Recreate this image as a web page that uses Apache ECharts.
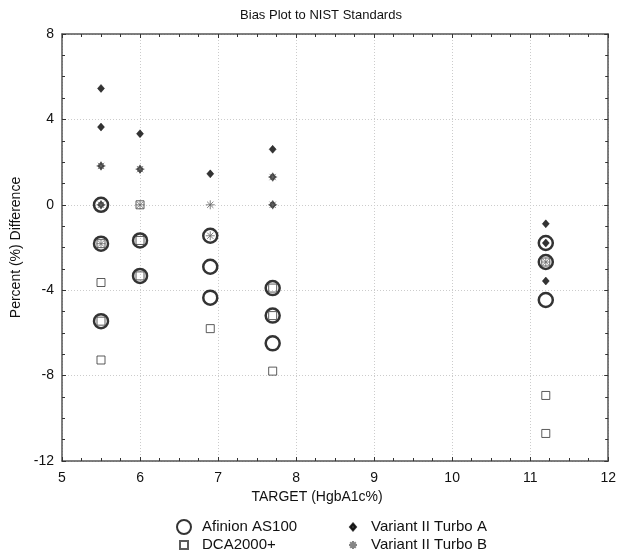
<!DOCTYPE html>
<html>
<head>
<meta charset="utf-8">
<script src="https://cdn.jsdelivr.net/npm/echarts@6/dist/echarts.min.js"></script>
<style>
  html, body { margin: 0; padding: 0; background: #fff; }
  #chart { width: 619px; height: 554px; }
</style>
</head>
<body>
<div id="chart"></div>
<script>
// Bias (%) of each method against the NIST reference values, [target, bias]
var afinion = [
  [5.5, 0], [5.5, -1.82], [5.5, -5.45],
  [6, -1.67], [6, -3.33],
  [6.9, -1.45], [6.9, -2.90], [6.9, -4.35],
  [7.7, -3.90], [7.7, -5.19], [7.7, -6.49],
  [11.2, -1.79], [11.2, -2.68], [11.2, -4.46]
];
var dca2000 = [
  [5.5, -1.82], [5.5, -3.64], [5.5, -5.45], [5.5, -7.27],
  [6, 0], [6, -1.67], [6, -3.33],
  [6.9, -5.80],
  [7.7, -3.90], [7.7, -5.19], [7.7, -7.79],
  [11.2, -2.68], [11.2, -8.93], [11.2, -10.71]
];
var turboA = [
  [5.5, 5.45], [5.5, 3.64], [5.5, 1.82], [5.5, 0],
  [6, 3.33], [6, 1.67],
  [6.9, 1.45],
  [7.7, 2.60], [7.7, 1.30], [7.7, 0],
  [11.2, -0.89], [11.2, -1.79], [11.2, -3.57]
];
var turboB = [
  [5.5, 1.82], [5.5, 0], [5.5, -1.82],
  [6, 1.67], [6, 0],
  [6.9, 0], [6.9, -1.45],
  [7.7, 1.30], [7.7, 0],
  [11.2, -2.68]
];
var seriesNames = ['Afinion AS100', 'DCA2000+', 'Variant II Turbo A', 'Variant II Turbo B'];

var font = 'Liberation Sans, Arial, sans-serif';
var asterisk = 'path://M5,0L5,10M0,5L10,5M1.5,1.5L8.5,8.5M1.5,8.5L8.5,1.5';

// legend icons: the leading moves pad the box to 26x14 so the marks keep their own size
var iconPad = 'path://M0,0M26,14';
var legendIcons = [
  'circle',
  iconPad + 'M9,3L17,3L17,11L9,11Z',
  iconPad + 'M13,3.5L16,7L13,10.5L10,7Z',
  iconPad + 'M13,3L13,11M9,7L17,7M10.2,4.2L15.8,9.8M10.2,9.8L15.8,4.2'
];

var chart = echarts.init(document.getElementById('chart'), null, {renderer: 'canvas'});

// shared look for the framed axes
function frameAxis(extra) {
  var ax = {
    axisLine: {show: true, onZero: false, lineStyle: {color: '#555', width: 1.5}},
    axisTick: {show: true, inside: true, length: 4, lineStyle: {color: '#333'}},
    minorTick: {show: true, splitNumber: 4, length: 3, lineStyle: {color: '#333'}},
    axisLabel: {show: false},
    splitLine: {show: false}
  };
  return Object.assign(ax, extra);
}

function legendColumn(idx, left) {
  return {
    data: idx.map(function (i) { return {name: seriesNames[i], icon: legendIcons[i]}; }),
    orient: 'vertical', left: left, top: 519, padding: 0, itemGap: 2,
    itemWidth: 26, itemHeight: 14, itemTextGap: 6,
    textStyle: {fontFamily: font, fontSize: 15, lineHeight: 16, color: '#111'}
  };
}

var option = {
  animation: false,
  backgroundColor: '#fff',
  textStyle: {fontFamily: font},
  title: {
    text: 'Bias Plot to NIST Standards',
    left: 316,
    textAlign: 'center',
    top: 4,
    textStyle: {fontFamily: font, fontSize: 13, fontWeight: 'normal', color: '#111'}
  },
  grid: {left: 62, right: 8, top: 34, bottom: 93},
  legend: [legendColumn([0, 1], 170), legendColumn([2, 3], 339)],
  xAxis: [
    frameAxis({
      type: 'value', min: 5, max: 12, interval: 1, position: 'bottom',
      name: 'TARGET (HgbA1c%)', nameLocation: 'middle', nameGap: 26,
      nameTextStyle: {fontFamily: font, fontSize: 14, color: '#111', padding: [0, 36, 0, 0]},
      axisLabel: {show: true, fontFamily: font, fontSize: 14, color: '#111', margin: 10},
      splitLine: {show: true, lineStyle: {color: '#ccc', type: [1, 2], width: 1}}
    }),
    frameAxis({type: 'value', min: 5, max: 12, interval: 1, position: 'top'})
  ],
  yAxis: [
    frameAxis({
      type: 'value', min: -12, max: 8, interval: 4, position: 'left',
      name: 'Percent (%) Difference', nameLocation: 'middle', nameGap: 36,
      nameTextStyle: {fontFamily: font, fontSize: 14, color: '#111'},
      axisLabel: {show: true, fontFamily: font, fontSize: 14, color: '#111', margin: 8},
      splitLine: {show: true, lineStyle: {color: '#ccc', type: [1, 2], width: 1}}
    }),
    frameAxis({type: 'value', min: -12, max: 8, interval: 4, position: 'right'})
  ],
  series: [
    {
      name: seriesNames[0], type: 'scatter', data: afinion,
      symbol: 'circle', symbolSize: 14,
      itemStyle: {color: 'rgba(0,0,0,0)', borderColor: '#000', borderWidth: 2.5}
    },
    {
      name: seriesNames[1], type: 'scatter', data: dca2000,
      symbol: 'rect', symbolSize: 8,
      itemStyle: {color: 'rgba(0,0,0,0)', borderColor: '#333', borderWidth: 1}
    },
    {
      name: seriesNames[2], type: 'scatter', data: turboA,
      symbol: 'diamond', symbolSize: [7, 8],
      itemStyle: {color: '#000', borderColor: '#000', borderWidth: 0.5}
    },
    {
      name: seriesNames[3], type: 'scatter', data: turboB,
      symbol: asterisk, symbolSize: 9,
      itemStyle: {color: 'rgba(0,0,0,0)', borderColor: '#666', borderWidth: 1}
    }
  ]
};

chart.setOption(option);
</script>
</body>
</html>
